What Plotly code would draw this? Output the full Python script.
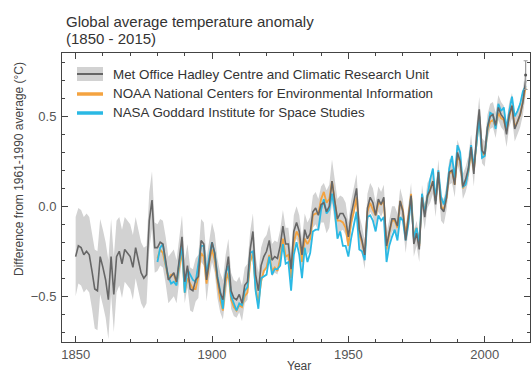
import plotly.graph_objects as go

# ---------------- data ----------------
years_had = list(range(1850, 2016))
hadcrut = [
    -0.28, -0.22, -0.23, -0.27, -0.25, -0.27, -0.36, -0.46, -0.47, -0.28,
    -0.34, -0.41, -0.52, -0.28, -0.49, -0.28, -0.25, -0.32, -0.24, -0.26,
    -0.28, -0.34, -0.23, -0.30, -0.37, -0.40, -0.38, -0.08, 0.035, -0.23,
    -0.23, -0.20, -0.21, -0.30, -0.41, -0.39, -0.37, -0.42, -0.31, -0.17,
    -0.42, -0.33, -0.46, -0.47, -0.41, -0.39, -0.19, -0.21, -0.41, -0.29,
    -0.20, -0.26, -0.40, -0.48, -0.52, -0.38, -0.28, -0.47, -0.51, -0.52,
    -0.49, -0.54, -0.44, -0.42, -0.24, -0.14, -0.38, -0.47, -0.33, -0.28,
    -0.25, -0.19, -0.30, -0.28, -0.29, -0.22, -0.11, -0.21, -0.21, -0.35,
    -0.14, -0.09, -0.14, -0.27, -0.13, -0.18, -0.15, -0.03, -0.01, -0.05,
    0.01, 0.02, -0.03, 0.00, 0.14, 0.03, -0.07, -0.04, -0.04, -0.07,
    -0.17, -0.05, 0.03, 0.10, -0.13, -0.19, -0.27, -0.01, 0.05, 0.02,
    -0.05, 0.04, 0.01, 0.05, -0.22, -0.14, -0.07, -0.07, -0.11, 0.03,
    -0.03, -0.19, -0.07, 0.06, -0.21, -0.15, -0.24, 0.05, -0.06, 0.06,
    0.09, 0.14, 0.01, 0.19, -0.01, -0.03, 0.05, 0.19, 0.20, 0.12,
    0.30, 0.25, 0.11, 0.15, 0.21, 0.33, 0.18, 0.39, 0.54, 0.31,
    0.29, 0.44, 0.50, 0.51, 0.45, 0.55, 0.51, 0.49, 0.40, 0.51,
    0.56, 0.43, 0.47, 0.51, 0.58, 0.70,
]
hadcrut_halfwidth = [
    0.22, 0.21, 0.21, 0.21, 0.21, 0.21, 0.21, 0.22, 0.22, 0.21,
    0.21, 0.21, 0.22, 0.21, 0.21, 0.20, 0.19, 0.19, 0.18, 0.18,
    0.18, 0.18, 0.17, 0.17, 0.17, 0.17, 0.16, 0.16, 0.16, 0.14,
    0.13, 0.13, 0.13, 0.13, 0.13, 0.13, 0.13, 0.12, 0.12, 0.12,
    0.12, 0.12, 0.12, 0.12, 0.12, 0.12, 0.12, 0.12, 0.12, 0.11,
    0.11, 0.11, 0.11, 0.11, 0.11, 0.11, 0.10, 0.10, 0.10, 0.10,
    0.10, 0.10, 0.10, 0.10, 0.10, 0.10, 0.10, 0.10, 0.10, 0.10,
    0.09, 0.09, 0.09, 0.09, 0.09, 0.09, 0.09, 0.09, 0.09, 0.09,
    0.09, 0.09, 0.09, 0.09, 0.09, 0.09, 0.09, 0.09, 0.09, 0.09,
    0.10, 0.11, 0.12, 0.12, 0.12, 0.12, 0.11, 0.10, 0.09, 0.09,
    0.08, 0.08, 0.08, 0.08, 0.08, 0.08, 0.08, 0.08, 0.08, 0.08,
    0.07, 0.07, 0.07, 0.07, 0.07, 0.07, 0.07, 0.07, 0.07, 0.07,
    0.07, 0.07, 0.07, 0.07, 0.07, 0.07, 0.07, 0.07, 0.07, 0.07,
    0.07, 0.07, 0.07, 0.07, 0.07, 0.07, 0.07, 0.07, 0.07, 0.07,
    0.07, 0.07, 0.07, 0.07, 0.07, 0.07, 0.07, 0.07, 0.07, 0.07,
    0.07, 0.07, 0.07, 0.07, 0.07, 0.07, 0.07, 0.07, 0.07, 0.07,
    0.07, 0.07, 0.07, 0.07, 0.07, 0.08,
]
years_other = list(range(1880, 2016))
noaa = [
    -0.29, -0.24, -0.26, -0.33, -0.40, -0.38, -0.38, -0.43, -0.33, -0.25,
    -0.48, -0.40, -0.43, -0.46, -0.46, -0.39, -0.26, -0.28, -0.43, -0.31,
    -0.24, -0.30, -0.42, -0.52, -0.58, -0.42, -0.37, -0.52, -0.56, -0.58,
    -0.55, -0.56, -0.50, -0.48, -0.31, -0.26, -0.46, -0.54, -0.42, -0.36,
    -0.34, -0.27, -0.36, -0.34, -0.36, -0.29, -0.18, -0.28, -0.27, -0.40,
    -0.20, -0.14, -0.17, -0.31, -0.18, -0.21, -0.18, -0.05, -0.04, -0.04,
    0.04, 0.08, 0.02, 0.04, 0.14, 0.04, -0.08, -0.08, -0.09, -0.12,
    -0.22, -0.09, -0.03, 0.05, -0.16, -0.20, -0.27, -0.03, 0.02, -0.02,
    -0.05, 0.02, 0.01, 0.03, -0.24, -0.15, -0.08, -0.08, -0.12, 0.03,
    -0.02, -0.16, -0.06, 0.07, -0.17, -0.12, -0.22, 0.06, -0.03, 0.05,
    0.10, 0.14, 0.03, 0.19, 0.00, -0.02, 0.05, 0.18, 0.20, 0.12,
    0.28, 0.25, 0.10, 0.13, 0.19, 0.30, 0.20, 0.37, 0.50, 0.30,
    0.28, 0.42, 0.47, 0.48, 0.44, 0.52, 0.49, 0.48, 0.42, 0.50,
    0.56, 0.44, 0.47, 0.51, 0.58, 0.66,
]
nasa = [
    -0.31, -0.23, -0.21, -0.32, -0.39, -0.43, -0.42, -0.44, -0.31, -0.22,
    -0.48, -0.35, -0.38, -0.41, -0.42, -0.33, -0.22, -0.22, -0.38, -0.28,
    -0.20, -0.26, -0.39, -0.47, -0.57, -0.37, -0.33, -0.50, -0.54, -0.58,
    -0.54, -0.55, -0.47, -0.45, -0.26, -0.25, -0.47, -0.57, -0.40, -0.39,
    -0.38, -0.28, -0.38, -0.35, -0.35, -0.33, -0.21, -0.32, -0.31, -0.47,
    -0.27, -0.20, -0.27, -0.40, -0.23, -0.31, -0.26, -0.14, -0.13, -0.13,
    -0.02, 0.04, -0.04, -0.02, 0.07, -0.02, -0.18, -0.14, -0.22, -0.22,
    -0.28, -0.18, -0.10, -0.03, -0.24, -0.25, -0.30, -0.06, -0.05, -0.08,
    -0.14, -0.05, -0.08, -0.06, -0.31, -0.22, -0.17, -0.13, -0.19, -0.06,
    -0.08, -0.19, -0.10, 0.05, -0.18, -0.12, -0.21, 0.07, -0.04, 0.05,
    0.15, 0.21, 0.03, 0.20, 0.05, 0.01, 0.07, 0.21, 0.28, 0.16,
    0.34, 0.30, 0.11, 0.12, 0.20, 0.34, 0.22, 0.35, 0.50, 0.27,
    0.28, 0.43, 0.52, 0.51, 0.43, 0.57, 0.53, 0.55, 0.43, 0.53,
    0.61, 0.50, 0.53, 0.57, 0.64, 0.67,
]
# 2015 provisional estimate with its uncertainty
year_2015 = [2015]
value_2015 = [0.73]
err_2015 = [0.08]

x_ticks = [1850, 1900, 1950, 2000]
y_ticks = [-0.5, 0.0, 0.5]
legend_labels = [
    "Met Office Hadley Centre and Climatic Research Unit",
    "NOAA National Centers for Environmental Information",
    "NASA Goddard Institute for Space Studies",
]

# ---------------- styles ----------------
W, H = 531, 374
L, R, T, B = 62, 1, 53, 32
PW, PH = W - L - R, H - T - B
FONT = "Liberation Sans, Arial, sans-serif"
BAND = "#d2d2d2"
HADC = "#666666"
ORANGE = "#f4a340"
CYAN = "#2ab9e4"
AX = "#444444"


def px(p):
    return (p - L) / PW


def py(p):
    return (H - B - p) / PH


upper = [v + h for v, h in zip(hadcrut, hadcrut_halfwidth)]
lower = [v - h for v, h in zip(hadcrut, hadcrut_halfwidth)]

fig = go.Figure()
fig.add_trace(go.Scatter(x=years_had, y=upper, mode="lines", line=dict(width=0),
                         showlegend=False, hoverinfo="skip"))
fig.add_trace(go.Scatter(x=years_had, y=lower, mode="lines", line=dict(width=0),
                         fill="tonexty", fillcolor=BAND, showlegend=False, hoverinfo="skip"))
fig.add_trace(go.Scatter(x=years_other, y=noaa, mode="lines",
                         line=dict(color=ORANGE, width=1.8), showlegend=False))
fig.add_trace(go.Scatter(x=years_other, y=nasa, mode="lines",
                         line=dict(color=CYAN, width=1.8), showlegend=False))
fig.add_trace(go.Scatter(x=years_had, y=hadcrut, mode="lines",
                         line=dict(color=HADC, width=1.6), showlegend=False))
fig.add_trace(go.Scatter(x=year_2015, y=value_2015, mode="markers",
                         marker=dict(color="#555555", size=3),
                         error_y=dict(type="data", array=err_2015, color="#9a9a9a",
                                      thickness=1.2, width=2),
                         showlegend=False, cliponaxis=False))

axis_common = dict(
    showline=True, linecolor=AX, linewidth=1, mirror="allticks",
    ticks="inside", tickcolor=AX, ticklen=6, tickwidth=1,
    showgrid=False, zeroline=False,
    tickfont=dict(family=FONT, size=13, color="#555555"),
)
fig.update_xaxes(range=[1845, 2016.6], tickvals=x_ticks,
                 minor=dict(dtick=10, tick0=1850, ticks="inside", ticklen=3,
                            tickcolor=AX, showgrid=False),
                 **axis_common)
fig.update_yaxes(range=[-0.755, 0.853], tickvals=y_ticks, tickformat=".1f",
                 minor=dict(dtick=0.1, tick0=0, ticks="inside", ticklen=3,
                            tickcolor=AX, showgrid=False),
                 ticklabelstandoff=2,
                 **axis_common)

shapes = [
    dict(type="rect", xref="paper", yref="paper", x0=px(77), x1=px(103),
         y0=py(81), y1=py(67), fillcolor=BAND, line=dict(width=0)),
    dict(type="line", xref="paper", yref="paper", x0=px(77), x1=px(103),
         y0=py(74), y1=py(74), line=dict(color=HADC, width=2)),
    dict(type="line", xref="paper", yref="paper", x0=px(77), x1=px(103),
         y0=py(94), y1=py(94), line=dict(color=ORANGE, width=3.5)),
    dict(type="line", xref="paper", yref="paper", x0=px(77), x1=px(103),
         y0=py(113), y1=py(113), line=dict(color=CYAN, width=3.5)),
]
annotations = []
for lab, yy in zip(legend_labels, [74, 94, 113]):
    annotations.append(dict(xref="paper", yref="paper", x=px(111), y=py(yy),
                            text=lab, showarrow=False, xanchor="left", yanchor="middle",
                            font=dict(family=FONT, size=13.4, color="#333333")))
annotations += [
    dict(xref="paper", yref="paper", x=px(64), y=py(21), text="Global average temperature anomaly",
         showarrow=False, xanchor="left", yanchor="middle",
         font=dict(family=FONT, size=15, color="#333333")),
    dict(xref="paper", yref="paper", x=px(64), y=py(38), text="(1850 - 2015)",
         showarrow=False, xanchor="left", yanchor="middle",
         font=dict(family=FONT, size=15, color="#333333")),
    dict(xref="paper", yref="paper", x=px(19), y=py(169),
         text="Difference from 1961-1990 average (°C)", textangle=-90,
         showarrow=False, xanchor="center", yanchor="middle",
         font=dict(family=FONT, size=12, color="#444444")),
    dict(xref="paper", yref="paper", x=px(299), y=py(366), text="Year",
         showarrow=False, xanchor="center", yanchor="middle",
         font=dict(family=FONT, size=12, color="#444444")),
]

fig.update_layout(
    width=W, height=H,
    margin=dict(l=L, r=R, t=T, b=B, pad=0),
    paper_bgcolor="white", plot_bgcolor="white",
    shapes=shapes, annotations=annotations,
    showlegend=False,
)
fig.write_html(
    "out.html",
    config={"displayModeBar": False},
    post_script="document.body.style.margin='0';document.body.style.padding='0';"
                "document.body.style.overflow='hidden';",
)
